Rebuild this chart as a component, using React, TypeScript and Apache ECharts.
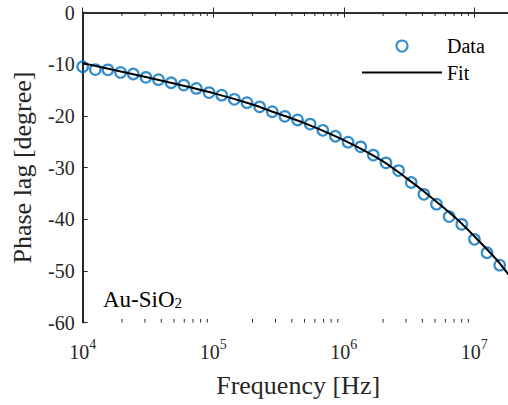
import React, { useEffect, useRef } from 'react';
import * as echarts from 'echarts';

const FONT = "'Times New Roman', 'Liberation Serif', 'DejaVu Serif', serif";

// Measured data points (frequency in Hz, phase lag in degrees)
const dataFreq = [
  1.0e4, 1.25e4, 1.56e4, 1.95e4, 2.44e4, 3.05e4, 3.81e4, 4.76e4, 5.95e4, 7.43e4,
  9.29e4, 1.161e5, 1.451e5, 1.813e5, 2.266e5, 2.831e5, 3.538e5, 4.421e5, 5.525e5, 6.905e5,
  8.63e5, 1.078e6, 1.348e6, 1.684e6, 2.105e6, 2.63e6, 3.287e6, 4.108e6, 5.133e6, 6.415e6,
  8.017e6, 1.002e7, 1.252e7, 1.565e7,
];
const dataPhase = [
  -10.5, -11.05, -11.1, -11.6, -11.9, -12.55, -13.0, -13.6, -14.05, -14.7,
  -15.5, -16.0, -16.8, -17.45, -18.25, -19.2, -20.1, -20.8, -21.6, -22.8,
  -23.95, -25.1, -26.0, -27.6, -29.1, -30.6, -32.9, -35.2, -37.1, -39.5,
  -41.0, -43.9, -46.5, -48.9,
];

// Fit curve samples
const fitFreq = [1e4, 2e4, 5e4, 1e5, 2e5, 3e5, 5e5, 1e6, 2e6, 3e6, 4e6, 7e6, 1e7, 1.5e7, 2e7];
const fitPhase = [-9.8, -11.45, -13.75, -15.6, -17.8, -19.4, -21.4, -24.7, -28.8, -32.0, -34.4, -39.5, -43.3, -48.0, -52.0];

// Axis settings
const xMin = 1e4;
const xMax = 2e7;
const yMin = -60;
const yMax = 0;
const yInterval = 10;
const minorTickFreqs = [
  2e4, 3e4, 4e4, 5e4, 6e4, 7e4, 8e4, 9e4,
  2e5, 3e5, 4e5, 5e5, 6e5, 7e5, 8e5, 9e5,
  2e6, 3e6, 4e6, 5e6, 6e6, 7e6, 8e6, 9e6,
];

const AXIS_COLOR = '#262626';

export default function App() {
  const ref = useRef<HTMLDivElement>(null);

  useEffect(() => {
    document.body.style.margin = '0';
    if (!ref.current) return;
    const chart = echarts.init(ref.current, undefined, { renderer: 'svg' });

    const xLabelRich = {
      b: { fontSize: 20, fontFamily: FONT, color: AXIS_COLOR, lineHeight: 28 },
      s: { fontSize: 14, fontFamily: FONT, color: AXIS_COLOR, lineHeight: 14, verticalAlign: 'top' },
    };

    const option: any = {
      animation: false,
      backgroundColor: '#ffffff',
      textStyle: { fontFamily: FONT },
      grid: {
        left: 82.7,
        top: 12.5,
        bottom: 82.5,
        right: -5.6,
        outerBoundsMode: 'none',
        containLabel: false,
      },
      legend: {
        data: [
          { name: 'Data' },
          { name: 'Fit', icon: 'path://M0 0H80V2H0Z', itemStyle: { color: '#000' } },
        ],
        orient: 'vertical',
        left: 362,
        top: 36,
        padding: 0,
        itemWidth: 80,
        itemHeight: 11,
        itemGap: 6.6,
        textStyle: { fontSize: 20, fontFamily: FONT, color: '#000' },
      },
      xAxis: [
        {
          type: 'log',
          logBase: 10,
          min: xMin,
          max: xMax,
          position: 'bottom',
          axisLine: { show: true, lineStyle: { color: AXIS_COLOR, width: 1.5 } },
          axisTick: { show: true, inside: true, length: 5, lineStyle: { color: AXIS_COLOR, width: 1 } },
          axisLabel: {
            show: true,
            margin: 15,
            showMaxLabel: false,
            fontFamily: FONT,
            formatter: (v: number) => `{b|10}{s|${Math.round(Math.log10(v))}}`,
            rich: xLabelRich,
          },
          splitLine: { show: false },
          name: 'Frequency [Hz]',
          nameLocation: 'middle',
          nameGap: 50,
          nameTextStyle: { fontSize: 26, fontFamily: FONT, color: AXIS_COLOR },
        },
        {
          type: 'log',
          logBase: 10,
          min: xMin,
          max: xMax,
          position: 'top',
          axisLine: { show: true, lineStyle: { color: AXIS_COLOR, width: 1.5 } },
          axisTick: { show: true, inside: true, length: 5, lineStyle: { color: AXIS_COLOR, width: 1 } },
          axisLabel: { show: false },
          splitLine: { show: false },
        },
      ],
      yAxis: {
        type: 'value',
        min: yMin,
        max: yMax,
        interval: yInterval,
        axisLine: { show: true, lineStyle: { color: AXIS_COLOR, width: 2 } },
        axisTick: { show: true, inside: true, length: 5, lineStyle: { color: AXIS_COLOR, width: 1 } },
        axisLabel: { fontSize: 20, fontFamily: FONT, color: AXIS_COLOR, margin: 8 },
        splitLine: { show: false },
        name: 'Phase lag [degree]',
        nameLocation: 'middle',
        nameGap: 47,
        nameRotate: 90,
        nameTextStyle: { fontSize: 26, fontFamily: FONT, color: AXIS_COLOR },
      },
      graphic: [
        {
          type: 'text',
          x: 103,
          y: 299.3,
          style: {
            text: '{a|Au-SiO}{s|2}',
            verticalAlign: 'middle',
            fontFamily: FONT,
            rich: {
              a: { fontSize: 23, fontFamily: FONT, color: '#000', lineHeight: 23 },
              s: { fontSize: 15, fontFamily: FONT, color: '#000', lineHeight: 15, verticalAlign: 'bottom' },
            },
          },
        },
      ],
      series: [
        {
          name: 'Data',
          type: 'scatter',
          data: dataFreq.map((f, i) => [f, dataPhase[i]]),
          symbol: 'circle',
          symbolSize: 10.5,
          itemStyle: { color: 'rgba(0,0,0,0)', borderColor: '#0072BD', borderWidth: 2.2 },
          z: 2,
        },
        {
          name: 'Fit',
          type: 'line',
          data: fitFreq.map((f, i) => [f, fitPhase[i]]),
          symbol: 'none',
          showSymbol: false,
          smooth: 0.3,
          lineStyle: { color: '#000', width: 2 },
          itemStyle: { color: '#000' },
          z: 3,
        },
        {
          name: 'minorTicks',
          type: 'custom',
          silent: true,
          clip: false,
          data: minorTickFreqs.map((f) => [f, yMin]),
          renderItem: (_params: any, api: any) => {
            const f = api.value(0);
            const b = api.coord([f, yMin]);
            const t = api.coord([f, yMax]);
            const st = { stroke: AXIS_COLOR, lineWidth: 1 };
            return {
              type: 'group',
              children: [
                { type: 'line', shape: { x1: b[0], y1: b[1], x2: b[0], y2: b[1] - 3.5 }, style: st },
                { type: 'line', shape: { x1: t[0], y1: t[1], x2: t[0], y2: t[1] + 3.5 }, style: st },
              ],
            };
          },
          z: 4,
        },
      ],
    };

    chart.setOption(option);
    return () => chart.dispose();
  }, []);

  return <div ref={ref} style={{ width: 508, height: 405 }} />;
}
